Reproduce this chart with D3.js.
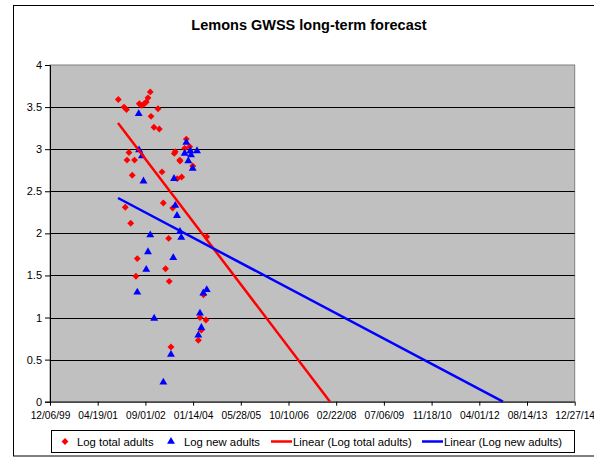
<!DOCTYPE html>
<html>
<head>
<meta charset="utf-8">
<script src="https://cdn.jsdelivr.net/npm/d3@7"></script>
<style>
  body { margin: 0; background: #fff; }
  svg { font-family: "Liberation Sans", Arial, sans-serif; }
</style>
</head>
<body>
<script>
var width = 594, height = 458;

// dates are Excel serial day numbers
var totalDays = [37216, 37276, 37302, 37436, 37461, 37488, 37509, 37527, 37551, 37632,
    37559, 37590, 37646, 37328, 37307, 37386, 37362, 37289, 37346, 37415,
    37401, 37674, 37688, 37744, 37711, 37750, 37768, 37786, 37834, 37880,
    37803, 37813, 37860, 37863, 37912, 37929, 37964, 37996, 38143, 38109,
    38072, 38135, 38086, 38055];
var totalValues = [3.59, 3.50, 3.47, 3.54, 3.52, 3.54, 3.56, 3.61, 3.68, 3.48,
    3.39, 3.26, 3.24, 2.96, 2.87, 2.87, 2.69, 2.31, 2.12, 1.70,
    1.49, 2.73, 2.36, 1.94, 1.58, 1.43, 0.65, 2.30, 2.65, 2.67,
    2.95, 2.97, 2.87, 2.86, 3.01, 3.12, 3.03, 2.80, 1.96, 1.27,
    1.00, 0.97, 0.85, 0.73];

var newDays = [37430, 37433, 37464, 37480, 37551, 37527, 37509, 37415, 37592, 37688,
    37768, 37792, 37800, 37813, 37831, 37863, 37876, 37929, 37912, 37971,
    37978, 38041, 37950, 37996, 38055, 38086, 38072, 38107, 38143];
var newValues = [3.42, 2.99, 2.92, 2.62, 1.98, 1.78, 1.57, 1.30, 0.99, 0.23,
    0.56, 1.71, 2.65, 2.33, 2.21, 2.02, 1.95, 3.08, 2.95, 2.98,
    2.93, 2.98, 2.86, 2.77, 0.79, 0.88, 1.05, 1.29, 1.33];

// linear trend lines as drawn on the chart (start, forecast end)
var totalTrendDays = [37213, 39435];
var totalTrendValues = [3.31, 0];
var newTrendDays = [37213, 41248];
var newTrendValues = [2.42, 0];

var xTicks = d3.range(36500, 42001, 500);
var yTicks = d3.range(0, 4.01, 0.5);

var margin = {left: 50, right: 19.3, top: 65, bottom: 56.3};
var plotW = width - margin.left - margin.right,
    plotH = height - margin.top - margin.bottom;

var x = d3.scaleLinear().domain([36500, 42000]).range([0, plotW]);
var y = d3.scaleLinear().domain([0, 4]).range([plotH, 0]);

var excelEpoch = Date.UTC(1899, 11, 30);
var fmtDate = d3.utcFormat("%m/%d/%y");
function serialLabel(s) { return fmtDate(new Date(excelEpoch + s * 86400000)); }

var svg = d3.select("body").append("svg")
    .attr("width", width)
    .attr("height", height);

// outer frame
svg.append("rect")
    .attr("x", 13.5).attr("y", 5.5)
    .attr("width", 620).attr("height", 450.5)
    .attr("fill", "#fff")
    .attr("stroke", "#000");

svg.append("text")
    .attr("x", 309).attr("y", 30)
    .attr("text-anchor", "middle")
    .style("font-size", "14.5px")
    .style("font-weight", "bold")
    .text("Lemons GWSS long-term forecast");

var g = svg.append("g")
    .attr("transform", "translate(" + margin.left + "," + margin.top + ")");

g.append("rect")
    .attr("width", plotW).attr("height", plotH)
    .attr("fill", "#c0c0c0")
    .attr("stroke", "#808080");

// gridlines
g.selectAll(".grid")
    .data(yTicks.slice(1, -1))
    .enter().append("line")
    .attr("class", "grid")
    .attr("x1", 0).attr("x2", plotW)
    .attr("y1", function(d) { return Math.round(y(d)) + 0.5; })
    .attr("y2", function(d) { return Math.round(y(d)) + 0.5; })
    .attr("stroke", "#000")
    .attr("stroke-width", 1);

// axes
var yAxis = g.append("g")
    .call(d3.axisLeft(y).tickValues(yTicks).tickSize(5).tickPadding(3)
        .tickFormat(d3.format("")));
var xAxis = g.append("g")
    .attr("transform", "translate(0," + plotH + ")")
    .call(d3.axisBottom(x).tickValues(xTicks).tickSize(4).tickPadding(6)
        .tickFormat(serialLabel));
[xAxis, yAxis].forEach(function(a) {
    a.selectAll("path, line").attr("stroke", "#000");
    a.selectAll("text").attr("fill", "#000")
        .style("font-family", "'Liberation Sans', Arial, sans-serif");
});
yAxis.selectAll("text").style("font-size", "11px");
xAxis.selectAll("text").style("font-size", "10.2px");
xAxis.select(".domain").attr("d", "M0,0.5H" + plotW);

g.append("clipPath").attr("id", "clip")
    .append("rect").attr("width", plotW).attr("height", plotH + 1);

var line = d3.line()
    .x(function(d) { return x(d[0]); })
    .y(function(d) { return y(d[1]); });

function trend(xs, ys, color) {
    g.append("path")
        .attr("clip-path", "url(#clip)")
        .attr("d", line(d3.zip(xs, ys)))
        .attr("stroke", color)
        .attr("stroke-width", 2.5)
        .attr("fill", "none");
}

var diamond = d3.symbol().type(d3.symbolDiamond2).size(30);
var triangle = d3.symbol().type(d3.symbolTriangle).size(27);

g.selectAll(".tot")
    .data(totalDays)
    .enter().append("path")
    .attr("class", "tot")
    .attr("d", diamond)
    .attr("transform", function(d, i) { return "translate(" + x(d) + "," + y(totalValues[i]) + ")"; })
    .attr("fill", "#ff0000");

g.selectAll(".new")
    .data(newDays)
    .enter().append("path")
    .attr("class", "new")
    .attr("d", triangle)
    .attr("transform", function(d, i) { return "translate(" + x(d) + "," + y(newValues[i]) + ")"; })
    .attr("fill", "#0000ff");

trend(totalTrendDays, totalTrendValues, "#ff0000");
trend(newTrendDays, newTrendValues, "#0000ff");

// legend
var legend = svg.append("g");
legend.append("rect")
    .attr("x", 51.5).attr("y", 430.5)
    .attr("width", 523).attr("height", 22)
    .attr("fill", "#fff").attr("stroke", "#000");

var items = [
    {label: "Log total adults", kind: "diamond", color: "#ff0000", x: 65, tx: 77},
    {label: "Log new adults", kind: "triangle", color: "#0000ff", x: 171, tx: 184},
    {label: "Linear (Log total adults)", kind: "line", color: "#ff0000", x: 271, tx: 293},
    {label: "Linear (Log new adults)", kind: "line", color: "#0000ff", x: 422, tx: 444}
];
items.forEach(function(it) {
    if (it.kind === "line") {
        legend.append("line")
            .attr("x1", it.x).attr("x2", it.x + 21)
            .attr("y1", 441.5).attr("y2", 441.5)
            .attr("stroke", it.color).attr("stroke-width", 2.5);
    } else {
        legend.append("path")
            .attr("d", it.kind === "diamond" ? diamond : triangle)
            .attr("transform", "translate(" + it.x + ",441.5)")
            .attr("fill", it.color);
    }
    legend.append("text")
        .attr("x", it.tx).attr("y", 445.5)
        .style("font-size", "11.3px")
        .text(it.label);
});
</script>
</body>
</html>
